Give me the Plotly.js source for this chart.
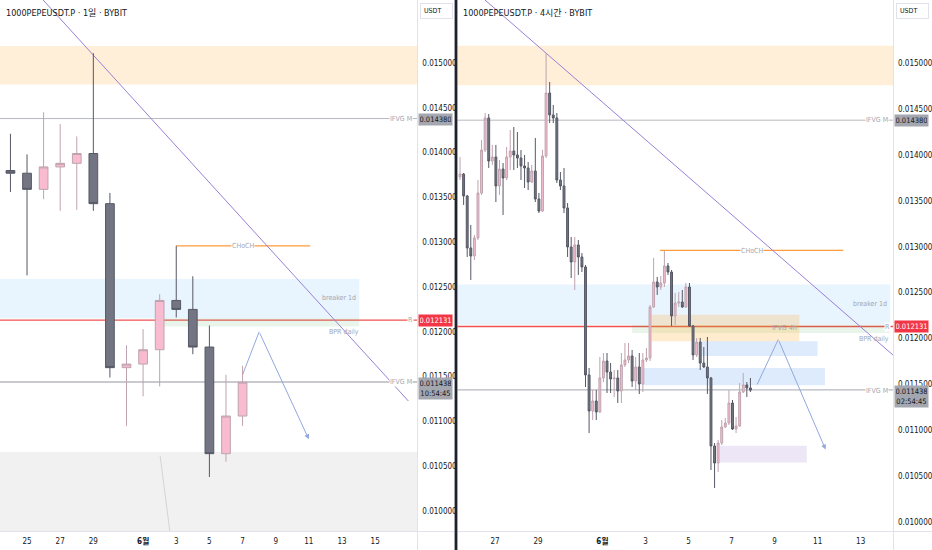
<!DOCTYPE html>
<html><head><meta charset="utf-8">
<script src="https://cdn.plot.ly/plotly-3.0.1.min.js"></script>
<style>html,body{margin:0;padding:0;background:#fff}</style>
</head><body><div id="chart" style="width:932px;height:550px"></div>
<script>
// ---------- daily (1일) data ----------
const dailyDays  = [24,25,26,27,28,29,30,31,32,33,34,35,36,37,38];
const dailyOpen  = [0.01380,0.01377,0.01359,0.01384,0.01388,0.01399,0.01343,0.01160,0.01164,0.01180,0.01235,0.01225,0.01183,0.01064,0.01106];
const dailyHigh  = [0.01421,0.01398,0.01445,0.01432,0.01418,0.01511,0.01355,0.01185,0.01203,0.01242,0.01296,0.01262,0.01207,0.01152,0.01162];
const dailyLow   = [0.01356,0.01263,0.01348,0.01335,0.01336,0.01335,0.01149,0.01095,0.01128,0.01139,0.01216,0.01175,0.01038,0.01055,0.01095];
const dailyClose = [0.01377,0.01359,0.01384,0.01388,0.01399,0.01343,0.01160,0.01164,0.01180,0.01235,0.01225,0.01183,0.01064,0.01106,0.011438];

// ---------- 4h (4시간) data ----------
const t4hStart = 25.375;   // May 25 09:00 (KST), day-of-month scale
const t4hStep = 1/6;       // 4 hours
const open4h = [
.013761,.013793,.013554,.012987,.0129,.013096,.013586,.014055,.014404,.013935,
.013979,.013663,.013848,.01375,.013979,.014044,.014001,.013968,.013881,.013859,
.013706,.013826,.013521,.01339,.01399,.014676,.014437,.014404,.013728,.013663,
.013423,.012998,.012834,.01302,.012889,.01278,.011603,.01121,.011319,.011199,
.01157,.011755,.011635,.011559,.01157,.011428,.011712,.011766,.01181,.011537,
.01169,.011504,.011766,.011788,.012344,.012616,.012562,.012605,.012791,.012725,
.012246,.012387,.012398,.012344,.012562,.012137,.011821,.011962,.011733,.01169,
.01157,.010829,.010643,.010861,.011036,.011079,.011297,.011014,.011047,.011417,
.011494,.011461];
const high4h = [
.013979,.013804,.013565,.013238,.013129,.013728,.014164,.014458,.014447,.01411,
.01411,.013946,.013913,.014088,.014273,.014306,.014251,.014055,.014001,.013924,
.013892,.014186,.013586,.014055,.015112,.014796,.014546,.014458,.013815,.013859,
.013477,.013107,.013107,.013074,.012932,.012802,.011679,.011439,.011439,.011799,
.011842,.011842,.011733,.011657,.011657,.011842,.011951,.011951,.011875,.011799,
.011842,.011842,.011897,.012366,.012878,.012671,.012682,.012954,.012823,.012747,
.012496,.012507,.012529,.012605,.012605,.012148,.012006,.012006,.011908,.012017,
.011581,.010861,.010894,.011112,.011134,.011439,.01133,.011145,.011515,.011624,
.011526,.01157];
const low4h = [
.013728,.013456,.012889,.012638,.012856,.013074,.013565,.014033,.013859,.013892,
.013488,.013565,.013347,.013728,.013837,.013837,.013859,.013728,.013641,.013619,
.013695,.013488,.013368,.013379,.013968,.014349,.014349,.013695,.013619,.013368,
.012889,.01266,.012529,.012693,.012725,.011472,.01097,.011112,.011112,.011188,
.011526,.011406,.011406,.011363,.011297,.011297,.01169,.011733,.011472,.011439,
.011395,.011417,.011744,.011755,.012333,.012475,.012529,.012562,.012693,.012137,
.012148,.012344,.012333,.012333,.012126,.011766,.011799,.011657,.011679,.011395,
.010567,.010371,.010545,.01084,.011025,.011058,.011003,.01097,.011036,.011406,
.011363,.011417];
const close4h = [
.013793,.013554,.012987,.0129,.013096,.013586,.014055,.014404,.013935,.013979,
.013663,.013848,.01375,.013979,.014044,.014001,.013968,.013881,.013859,.013706,
.013826,.013521,.01339,.01399,.014676,.014437,.014404,.013728,.013663,.013423,
.012998,.012834,.01302,.012889,.01278,.011603,.01121,.011319,.011199,.01157,
.011755,.011635,.011559,.01157,.011428,.011712,.011766,.01181,.011537,.01169,
.011504,.011766,.011788,.012344,.012616,.012562,.012605,.012791,.012725,.012246,
.012387,.012398,.012344,.012562,.012137,.011821,.011962,.011733,.01169,.01157,
.010829,.010643,.010861,.011036,.011079,.011297,.011014,.011047,.011417,.011494,
.011461,.011438];

// ---------- axis ticks ----------
const leftTickVals  = [25,27,29,32,34,36,38,40,42,44,46];
const leftTickText  = ['25','27','29','<b>6월</b>','3','5','7','9','11','13','15'];
const rightTickVals = [27,29,32,34,36,38,40,42,44];
const rightTickText = ['27','29','<b>6월</b>','3','5','7','9','11','13'];
const priceTicks = [0.0100,0.0105,0.0110,0.0115,0.0120,0.0125,0.0130,0.0135,0.0140,0.0145,0.0150];

// ---------- drawing levels ----------
const supplyZone = [0.01476, 0.01519];
const breaker1d  = [0.01215, 0.01259];
const bprDaily   = [0.01206, 0.01215];
const dailyLowZoneTop = 0.01066;
const ifvgLevels = [0.01438, 0.01144];
const levelR = 0.012131;
const chochLevel = 0.01296;
const ifvg4h = [0.01197, 0.01226];
const fvgUpper = [0.01181, 0.01197];
const fvgLower = [0.01149, 0.01168];
const targetZone = [0.01065, 0.01083];
const trendDx = [25.97, 48.0],  trendDy = [0.015703, 0.011228];
const trend4x = [26.535, 45.503], trend4y = [0.01569, 0.01182];
const pathDx = [38, 39, 42],  pathDy = [0.01152, 0.01200, 0.01080];
const path4x = [39.19, 40.17, 42.37], path4y = [0.01150, 0.01199, 0.01079];
const faintDx = [33.03, 33.70], faintDy = [0.010614, 0.00965];

const W = 932, PB = 531;
const px = x => x / W;
const py = y => (PB - y) / PB;
const F = "'Liberation Sans Narrow','DejaVu Sans Condensed',Roboto,'Noto Sans CJK KR',sans-serif";
const FK = F;

const x4h = open4h.map((_, i) => t4hStart + i * t4hStep);

const candleStyle = {
  increasing: {line: {color: '#bfa3ae', width: 1}, fillcolor: '#f8bbd0'},
  decreasing: {line: {color: '#555864', width: 1}, fillcolor: '#737682'},
  hoverinfo: 'skip', showlegend: false
};

const traces = [
  Object.assign({type: 'candlestick', x: dailyDays, open: dailyOpen, high: dailyHigh, low: dailyLow, close: dailyClose, xaxis: 'x', yaxis: 'y'}, candleStyle),
  Object.assign({type: 'candlestick', x: x4h, open: open4h, high: high4h, low: low4h, close: close4h, xaxis: 'x2', yaxis: 'y2'}, candleStyle)
];

function rect(xr, x0, x1, yr, y0, y1, color) {
  return {type: 'rect', xref: xr, yref: yr, x0: x0, x1: x1, y0: y0, y1: y1, fillcolor: color, line: {width: 0}, layer: 'below'};
}
function seg(xr, yr, x0, y0, x1, y1, color, w) {
  return {type: 'line', xref: xr, yref: yr, x0: x0, y0: y0, x1: x1, y1: y1, line: {color: color, width: w || 1}, layer: 'below'};
}
const ORANGE = 'rgba(255,167,38,0.18)', BLUE = 'rgba(33,150,243,0.10)', GREEN = 'rgba(76,175,80,0.12)';
const BLUE2 = 'rgba(33,120,243,0.15)', PURP = 'rgba(149,117,205,0.18)', TAN = 'rgba(255,167,38,0.22)';

const shapes = [
  // left (daily)
  rect('x domain', 0, 1, 'y', supplyZone[0], supplyZone[1], ORANGE),
  rect('x', 20, 45.04, 'y', breaker1d[0], breaker1d[1], BLUE),
  rect('x', 33.03, 45.04, 'y', bprDaily[0], bprDaily[1], GREEN),
  rect('x domain', 0, 1, 'y', 0.009, dailyLowZoneTop, 'rgba(120,120,130,0.10)'),
  seg('x', 'y', faintDx[0], faintDy[0], faintDx[1], faintDy[1], '#d4d4d8', 1),
  seg('x domain', 'y', 0, ifvgLevels[0], 1, ifvgLevels[0], '#b7b9c0', 1),
  seg('x domain', 'y', 0, ifvgLevels[1], 1, ifvgLevels[1], '#b7b9c0', 1.3),
  seg('x domain', 'y', 0, levelR, 1, levelR, '#f05252', 1.3),
  seg('x', 'y', 34, chochLevel, 42.08, chochLevel, '#ff9b3d', 1.3),
  seg('x', 'y', trendDx[0], trendDy[0], trendDx[1], trendDy[1], '#9a7fd6', 1),
  seg('x', 'y', pathDx[0], pathDy[0], pathDx[1], pathDy[1], '#92a8dc', 1),
  // right (4h)
  rect('x2 domain', 0, 1, 'y2', supplyZone[0], supplyZone[1], ORANGE),
  rect('x2', 20, 45.375, 'y2', breaker1d[0], breaker1d[1], BLUE),
  rect('x2', 33.375, 45.375, 'y2', bprDaily[0], bprDaily[1], GREEN),
  rect('x2', 34.29, 41.15, 'y2', ifvg4h[0], ifvg4h[1], TAN),
  rect('x2', 36.61, 42.0, 'y2', fvgUpper[0], fvgUpper[1], BLUE2),
  rect('x2', 33.82, 42.34, 'y2', fvgLower[0], fvgLower[1], BLUE2),
  rect('x2', 37.46, 41.49, 'y2', targetZone[0], targetZone[1], PURP),
  seg('x2 domain', 'y2', 0, ifvgLevels[0], 1, ifvgLevels[0], '#b7b9c0', 1),
  seg('x2 domain', 'y2', 0, ifvgLevels[1], 1, ifvgLevels[1], '#b7b9c0', 1.3),
  seg('x2 domain', 'y2', 0, levelR, 1, levelR, '#f05252', 1.3),
  seg('x2', 'y2', 34.67, chochLevel, 43.19, chochLevel, '#ff9b3d', 1.3),
  seg('x2', 'y2', trend4x[0], trend4y[0], trend4x[1], trend4y[1], '#9a7fd6', 1),
  seg('x2', 'y2', path4x[0], path4y[0], path4x[1], path4y[1], '#92a8dc', 1),
  // frame
  {type: 'line', xref: 'paper', yref: 'paper', x0: px(417.5), x1: px(417.5), y0: py(550), y1: 1, line: {color: '#e0e3eb', width: 1}},
  {type: 'line', xref: 'paper', yref: 'paper', x0: px(893.5), x1: px(893.5), y0: py(550), y1: 1, line: {color: '#e0e3eb', width: 1}},
  {type: 'line', xref: 'paper', yref: 'paper', x0: 0, x1: px(454), y0: py(531.5), y1: py(531.5), line: {color: '#e0e3eb', width: 1}},
  {type: 'line', xref: 'paper', yref: 'paper', x0: px(457.5), x1: 1, y0: py(531.5), y1: py(531.5), line: {color: '#e0e3eb', width: 1}},
  {type: 'rect', xref: 'paper', yref: 'paper', x0: px(454.6), x1: px(457.4), y0: py(550), y1: 1, fillcolor: '#1e222d', line: {width: 0}}
];

const LBL = '#a3a6af';
function txt(x, y, t, anchor, bg, size) {
  return {xref: 'paper', yref: 'paper', x: px(x), y: py(y), text: t, showarrow: false, xanchor: anchor || 'center', yanchor: 'middle',
          font: {family: F, size: size || 7, color: LBL}, bgcolor: bg || 'rgba(0,0,0,0)', borderpad: 0};
}
function priceLbl(x, y, t, bg, col, top) {
  return {xref: 'paper', yref: 'paper', x: px(x), y: py(y), text: t, showarrow: false, xanchor: 'left', yanchor: top ? 'top' : 'middle',
          font: {family: F, size: 7.5, color: col}, bgcolor: bg, borderpad: 1, width: 31, align: 'center'};
}

const annotations = [
  {xref: 'paper', yref: 'paper', x: px(4), y: py(13), text: '1000PEPEUSDT.P · 1일 · BYBIT', showarrow: false, xanchor: 'left', yanchor: 'middle', font: {family: FK, size: 9, color: '#131722'}},
  {xref: 'paper', yref: 'paper', x: px(461), y: py(13), text: '1000PEPEUSDT.P · 4시간 · BYBIT', showarrow: false, xanchor: 'left', yanchor: 'middle', font: {family: FK, size: 9, color: '#131722'}},
  {xref: 'paper', yref: 'paper', x: px(420), y: py(11), text: 'USDT', showarrow: false, xanchor: 'left', yanchor: 'middle', font: {family: F, size: 7, color: '#131722'}, bordercolor: '#e0e3eb', borderwidth: 1, borderpad: 3, width: 25, align: 'left'},
  {xref: 'paper', yref: 'paper', x: px(896), y: py(11), text: 'USDT', showarrow: false, xanchor: 'left', yanchor: 'middle', font: {family: F, size: 7, color: '#131722'}, bordercolor: '#e0e3eb', borderwidth: 1, borderpad: 3, width: 25, align: 'left'},
  // left labels
  txt(357, 298, 'breaker 1d', 'right'),
  txt(360, 332, 'BPR daily', 'right'),
  txt(242.5, 246, 'CHoCH', 'center', '#ffffff'),
  txt(401, 119, 'IFVG M', 'center', '#ffffff'),
  txt(401, 382, 'IFVG M', 'center', '#ffffff'),
  txt(410.5, 319.5, 'R', 'center', '#ffffff'),
  // right labels
  txt(888, 304, 'breaker 1d', 'right'),
  txt(890, 339, 'BPR daily', 'right'),
  txt(752, 251, 'CHoCH', 'center', '#ffffff'),
  txt(798, 328, 'IFVG 4h', 'right'),
  txt(877, 120, 'IFVG M', 'center', '#ffffff'),
  txt(877, 390.5, 'IFVG M', 'center', '#ffffff'),
  txt(887.5, 326.5, 'R', 'center', '#ffffff'),
  // price scale labels
  priceLbl(417.8, 119.5, '0.014380', '#a4a7b0', '#131722'),
  priceLbl(417.8, 320, '0.012131', '#f23645', '#ffffff'),
  priceLbl(417.8, 377, '0.011438<br>10:54:45', '#a4a7b0', '#131722', true),
  priceLbl(894, 120.5, '0.014380', '#a4a7b0', '#131722'),
  priceLbl(894, 326.7, '0.012131', '#f23645', '#ffffff'),
  priceLbl(894, 385, '0.011438<br>02:54:45', '#a4a7b0', '#131722', true),
  // projection arrowheads
  {xref: 'x', yref: 'y', axref: 'x', ayref: 'y', x: pathDx[2], y: pathDy[2], ax: pathDx[1], ay: pathDy[1], showarrow: true, arrowhead: 2, arrowsize: 1, arrowwidth: 1, arrowcolor: '#92a8dc', text: ''},
  {xref: 'x2', yref: 'y2', axref: 'x2', ayref: 'y2', x: path4x[2], y: path4y[2], ax: path4x[1], ay: path4y[1], showarrow: true, arrowhead: 2, arrowsize: 1, arrowwidth: 1, arrowcolor: '#92a8dc', text: ''}
];

const xCommon = {showgrid: false, zeroline: false, showline: false, ticks: '', rangeslider: {visible: false}, fixedrange: true,
                 tickfont: {family: FK, size: 8, color: '#131722'}, ticklabelstandoff: 4};
const yCommon = {showgrid: false, zeroline: false, showline: false, ticks: '', side: 'right', tickvals: priceTicks, tickformat: '.6f',
                 tickfont: {family: F, size: 8, color: '#131722'}, ticklabelstandoff: 4, fixedrange: true};

const layout = {
  width: 932, height: 550, margin: {l: 0, r: 0, t: 0, b: 19},
  paper_bgcolor: '#ffffff', plot_bgcolor: '#ffffff', showlegend: false, hovermode: false, boxgap: 0.25,
  xaxis: Object.assign({}, xCommon, {domain: [0, 417.3 / W], range: [23.37, 48.54], tickvals: leftTickVals, ticktext: leftTickText, anchor: 'y'}),
  yaxis: Object.assign({}, yCommon, {domain: [0, 1], range: [0.009777, 0.015703], anchor: 'x'}),
  xaxis2: Object.assign({}, xCommon, {domain: [457.5 / W, 893 / W], range: [25.257, 45.504], tickvals: rightTickVals, ticktext: rightTickText, anchor: 'y2'}),
  yaxis2: Object.assign({}, yCommon, {domain: [0, 1], range: [0.009902, 0.01569], anchor: 'x2'}),
  shapes: shapes, annotations: annotations
};

Plotly.newPlot('chart', traces, layout, {displayModeBar: false, staticPlot: true});
</script></body></html>
